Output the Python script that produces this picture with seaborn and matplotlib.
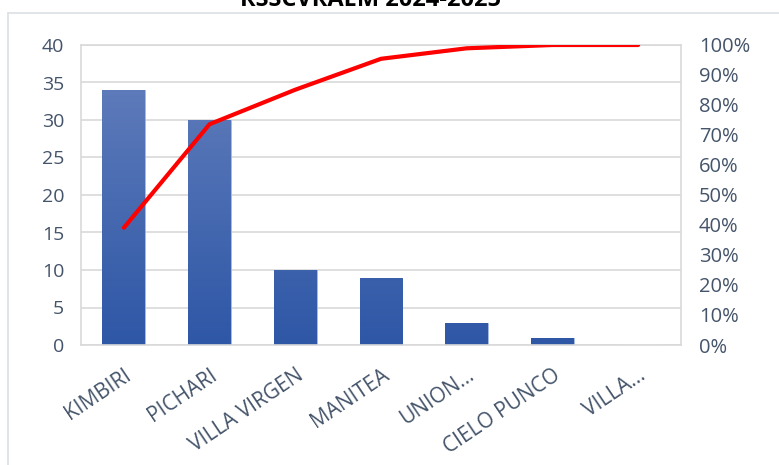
import numpy as np
import pandas as pd
import matplotlib
matplotlib.use("Agg")
import matplotlib.pyplot as plt
from matplotlib.colors import LinearSegmentedColormap
from matplotlib.lines import Line2D
import seaborn as sns

# ── DATA ────────────────────────────────────────────────────
categories = ["KIMBIRI", "PICHARI", "VILLA VIRGEN", "MANITEA",
              "UNION...", "CIELO PUNCO", "VILLA..."]
counts = [34, 30, 10, 9, 3, 1, 0]
cum_pct = [0.391, 0.736, 0.851, 0.954, 0.989, 1.0, 1.0]
left_ticks = [0, 5, 10, 15, 20, 25, 30, 35, 40]
right_ticks = [0, 0.1, 0.2, 0.3, 0.4, 0.5, 0.6, 0.7, 0.8, 0.9, 1.0]
title = "RSSCVRAEM 2024-2025"

# ── STYLE ───────────────────────────────────────────────────
sns.set_theme(style="white")
plt.rcParams["font.family"] = ["Open Sans", "DejaVu Sans"]
TXT = "#44546A"
GRID = "#d9d9d9"

df = pd.DataFrame({"cat": categories, "n": counts, "cum": cum_pct})

fig = plt.figure(figsize=(7.79, 4.65), dpi=100)
ax = fig.add_axes([81 / 779, 120 / 465, 600 / 779, 300 / 465])

sns.barplot(data=df, x="cat", y="n", color="#3a62b0", width=0.5,
            saturation=1, ax=ax, zorder=2)

# vertical gradient fill on the bars (light top -> dark bottom)
cmap = LinearSegmentedColormap.from_list("g", ["#2e57a6", "#5d7aba"])
ymax = 40
for bar in ax.patches:
    x0, w, h = bar.get_x(), bar.get_width(), bar.get_height()
    if h <= 0:
        continue
    grad = np.linspace(h / 34, 0, 100).reshape(-1, 1)
    im = ax.imshow(grad, cmap=cmap, vmin=0, vmax=1, aspect="auto",
                   extent=[x0, x0 + w, 0, h], zorder=2.1)
    im.set_clip_path(bar)
    bar.set_edgecolor("#a8bce2")
    bar.set_linewidth(0.6)

ax.set_xlim(-0.5, len(categories) - 0.5)
ax.set_ylim(0, ymax)
ax.set_yticks(left_ticks)
ax.set_xlabel("")
ax.set_ylabel("")
ax.grid(axis="y", color=GRID, lw=1.2, zorder=0)
ax.set_axisbelow(True)
for s in ax.spines.values():
    s.set_color(GRID)
    s.set_linewidth(1.2)
ax.tick_params(axis="y", length=0, pad=12, labelsize=14, labelcolor=TXT)
ax.tick_params(axis="x", length=0, pad=14, labelsize=15, labelcolor=TXT)
plt.setp(ax.get_xticklabels(), rotation=34, ha="right", va="top",
         rotation_mode="anchor")

# cumulative percentage line
ax2 = ax.twinx()
sns.lineplot(x=np.arange(len(categories)), y=df["cum"], color="#ff0000",
             lw=3, sort=False, ax=ax2, zorder=3)
ax2.set_ylim(0, 1)
ax2.set_yticks(right_ticks)
ax2.set_yticklabels([f"{int(round(t * 100))}%" for t in right_ticks])
ax2.set_ylabel("")
ax2.tick_params(axis="y", length=0, pad=13, labelsize=14.5, labelcolor=TXT)
for s in ax2.spines.values():
    s.set_visible(False)
ax.set_xlim(-0.5, len(categories) - 0.5)

# title (cropped at the top as in the source screenshot)
fig.text(371 / 779, 1 - 6 / 465, title, ha="center", va="baseline",
         fontsize=17, fontweight="bold", color="black")

# chart frame lines
fig.add_artist(Line2D([8 / 779, 1], [1 - 13 / 465] * 2, color="#dcdfe4", lw=1.2))
fig.add_artist(Line2D([8 / 779] * 2, [0, 1 - 13 / 465], color="#dcdfe4", lw=1.2))

fig.savefig("out.png", dpi=100)
